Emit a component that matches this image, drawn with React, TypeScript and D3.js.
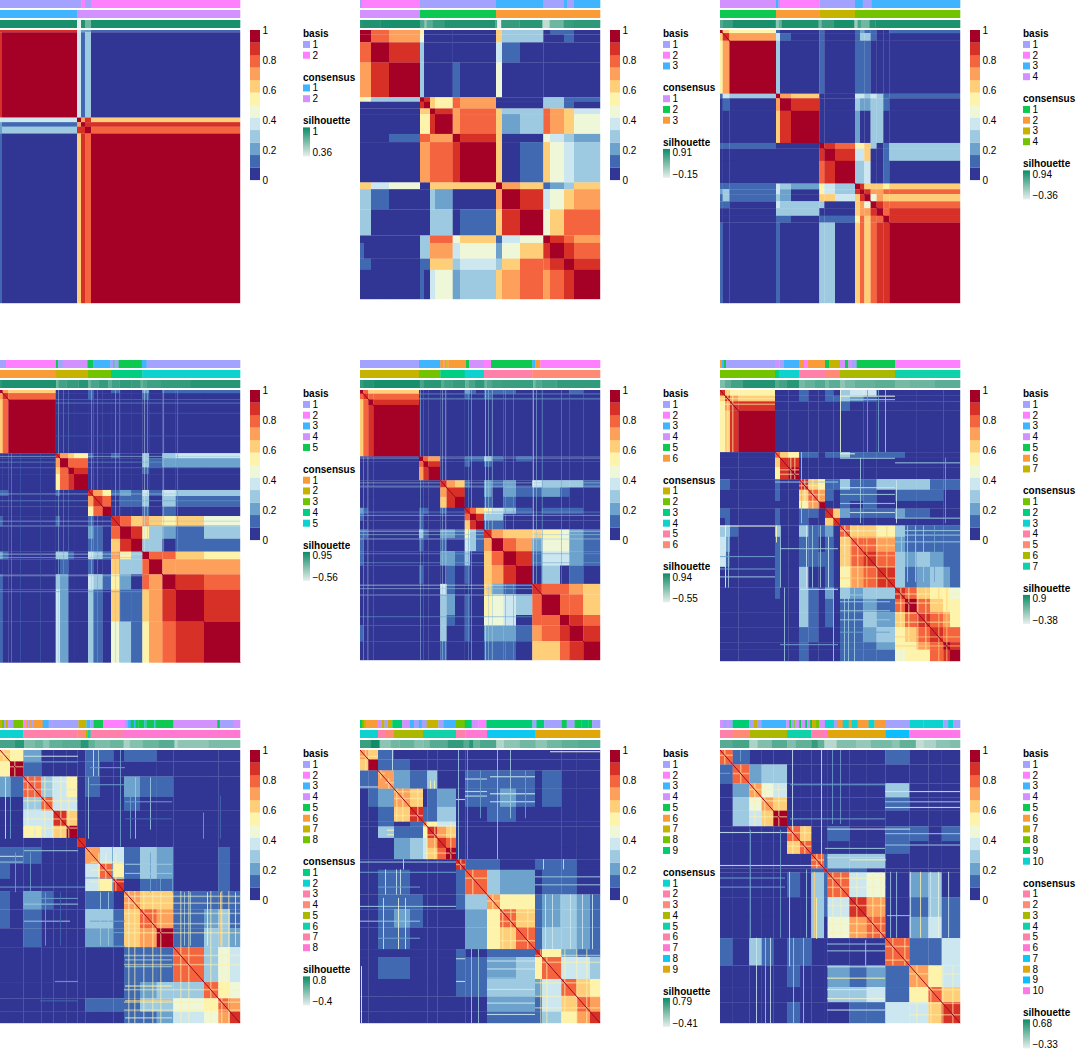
import * as d3 from 'd3';
import React from "react";

// consensus colour bins
const heatColors = ['#313695', '#4169B1', '#6DA2CC', '#9ECAE1', '#CDE7F0', '#EEF7D8', '#FEF3AB', '#FECE79', '#FDA05C', '#F4653F', '#D73027', '#A50026'];
const heatTicks = [0, 0.2, 0.4, 0.6, 0.8, 1];

// shared annotation colours
const basisColors = ['#A3A3FF', '#FF80FF', '#40B4FF', '#D291FF', '#0DC952', '#F99B36', '#C5B300', '#73C300', '#00CC73', '#0DD2D0'];
const consensusColorsByK: Record<number, string[]> = {
    2: ['#40B4FF', '#D291FF'],
    3: ['#D291FF', '#0DC952', '#F99B36'],
    4: ['#0DC952', '#F99B36', '#C5B300', '#73C300'],
    5: ['#F99B36', '#C5B300', '#73C300', '#00CE80', '#0DD2D0'],
    6: ['#C5B300', '#73C300', '#00CE80', '#0DD2D0', '#FF80A8', '#FF8A75'],
    7: ['#73C300', '#00CE80', '#0DD2D0', '#FF80A8', '#FF8A75', '#ABB800', '#0FD2AA'],
    8: ['#00CE80', '#0DD2D0', '#FF80A8', '#FF8A75', '#ABB800', '#0FD2AA', '#FF80A8', '#FF78D2'],
    9: ['#0DD2D0', '#FF80A8', '#FF8A75', '#ABB800', '#0FD2AA', '#FF80A8', '#FF78D2', '#0DC8F0', '#E0A70D'],
    10: ['#FF80A8', '#FF8A75', '#ABB800', '#0FD2AA', '#FF80A8', '#FF78D2', '#0DC8F0', '#E0A70D', '#0DBEFF', '#FF78E8'],
};

// k = 2
const k2Sizes = [2, 75, 4, 4, 6, 149];
const k2Rows = [
    [.9, .85, .4, .2, .2, .12],
    [1, .4, .15, .25, .02],
    [1, .72, .85, .6],
    [1, .9, .88],
    [1, .8],
    [1],
];
const k2Basis = [[1, 81], [2, 4], [1, 6], [2, 149]];
const k2Consensus = [[1, 77], [2, 163]];
const k2Sil = [[.97, 77], [.36, 4], [.95, 4], [.72, 6], [.97, 149]];
const k2SilRange = ['0.36', '1'];

// k = 3
const k3Sizes = [4, 7, 18, 31, 4, 6, 5, 17.7, 7.3, 36, 6, 18, 23.3, 6.7, 14, 10, 26];
const k3Rows = [
    [1, .95, .78, .7, .5, .05, .02, .02, .02, .02, .65, .33, .25, .02, .1, .15, .02],
    [1, .82, .7, .45, .03, .02, .02, .02, .02, .6, .3, .25, .02, .02, .1, .02],
    [1, .88, .25, .02, .02, .02, .02, .02, .4, .15, .02, .02, .02, .02, .02],
    [1, .3, .02, .02, .02, .12, .02, .42, .02, .02, .02, .02, .02, .02],
    [.92, .88, .6, .5, .8, .7, .02, .02, .02, .3, .25, .15, .1],
    [1, .65, .5, .8, .7, .02, .02, .02, .3, .25, .15, .05],
    [.95, .9, .7, .8, .65, .25, .25, .78, .7, .6, .4],
    [1, .7, .8, .6, .2, .3, .8, .7, .6, .47],
    [1, .88, .65, .02, .02, .47, .4, .25, .2],
    [1, .65, .02, .15, .6, .47, .4, .3],
    [.95, .7, .6, .1, .2, .3, .6],
    [1, .88, .4, .47, .6, .7],
    [1, .47, .62, .75, .8],
    [1, .88, .8, .7],
    [1, .88, .8],
    [1, .88],
    [1],
];
const k3Basis = [[1, 2], [2, 58], [1, 76], [3, 47], [1, 21], [3, 3], [1, 7], [3, 26]];
const k3Consensus = [[1, 60], [2, 76], [3, 104]];
const k3Sil = [[.78, 2], [.82, 18], [.86, 40], [.6, 4], [.3, 2], [.55, 6], [.72, 12], [.82, 50], [.6, 2], [-.15, 4], [.72, 18], [.78, 23], [.05, 7], [.45, 14], [.72, 10], [.76, 26]];
const k3SilRange = ['\u22120.15', '0.91'];

// k = 4
const k4Sizes = [2.7, 6.7, 46.6, 4, 11, 28.3, 5, 10.7, 20, 5, 4.3, 6.3, 6, 6.7, 6, 70.7];
const k4Rows = [
    [.95, .6, .55, .1, .02, .02, .1, .05, .02, .1, .2, .15, .1, .02, .05, .1],
    [.9, .7, .35, .1, .02, .15, .05, .02, .1, .25, .25, .1, .05, .05, .02],
    [1, .3, .05, .02, .1, .02, .02, .1, .1, .1, .02, .02, .02, .02],
    [.95, .7, .65, .05, .03, .03, .4, .35, .3, .4, .3, .15, .1],
    [.92, .85, .02, .02, .02, .3, .2, .2, .3, .25, .1, .02],
    [1, .02, .02, .02, .2, .02, .02, .25, .25, .02, .02],
    [1, .85, .75, .5, .55, .6, .3, .05, .15, .25],
    [1, .85, .35, .4, .6, .05, .05, .15, .25],
    [1, .3, .3, .4, .05, .02, .15, .02],
    [.95, .85, .6, .6, .6, .55, .6],
    [1, .88, .7, .7, .75, .75],
    [1, .45, .7, .65, .6],
    [1, .88, .8, .8],
    [1, .8, .85],
    [1, .88],
    [1],
];
const k4Basis = [[4, 56], [3, 2], [1, 2], [2, 39.3], [1, 35.7], [3, 7.7], [1, 8.6], [3, 88.7]];
const k4Consensus = [[1, 56], [2, 43.3], [3, 35.7], [4, 105]];
const k4Sil = [[.55, 3], [.7, 10], [.88, 43], [.2, 3], [.45, 3], [.85, 37], [.35, 3], [.7, 12], [.88, 21], [.1, 3], [.6, 4], [.35, 8], [.82, 6], [.85, 85]];
const k4SilRange = ['\u22120.36', '0.94'];

// k = 5
const k5Sizes = [2.7, 5.6, 47.4, 4.3, 8.3, 5.7, 14, 5.3, 9.3, 8.4, 9, 11, 11.3, 6.7, 13.3, 13.3, 28.3, 36];
const k5Rows = [
    [.95, .7, .65, .05, .05, .02, .02, .15, .05, .02, .1, .05, .02, .2, .05, .1, .1, .1],
    [.9, .75, .03, .02, .02, .02, .1, .02, .02, .05, .02, .02, .1, .02, .05, .02, .02],
    [1, .02, .02, .02, .02, .02, .02, .02, .02, .02, .02, .02, .02, .02, .02, .02],
    [.9, .7, .65, .55, .1, .05, .02, .1, .05, .02, .3, .05, .3, .35, .35],
    [.92, .8, .75, .05, .05, .02, .05, .02, .02, .25, .15, .2, .2, .2],
    [1, .85, .02, .02, .02, .02, .02, .02, .1, .02, .02, .02, .02],
    [1, .02, .02, .02, .02, .02, .02, .02, .02, .02, .02, .02],
    [.85, .7, .55, .1, .2, .1, .35, .15, .4, .3, .3],
    [.9, .8, .03, .15, .1, .25, .05, .3, .15, .1],
    [1, .02, .02, .02, .1, .02, .15, .02, .02],
    [.85, .75, .65, .7, .65, .55, .6, .45],
    [.92, .85, .55, .3, .2, .15, .25],
    [1, .3, .32, .02, .1, .12],
    [.95, .75, .75, .65, .55],
    [1, .7, .7, .7],
    [1, .88, .8],
    [1, .88],
    [1],
];
const k5Basis = [[1, 6], [2, 49.7], [5, 2], [1, 5], [4, 24.3], [5, 6], [3, 17], [1, 3], [5, 1], [1, 4], [5, 23.3], [3, 4.7], [1, 93]];
const k5Consensus = [[1, 55.7], [2, 32.3], [3, 23], [4, 31.3], [5, 97.7]];
const k5Sil = [[.75, 2], [.85, 54], [.3, 2], [.6, 8], [.7, 12], [.78, 10], [.3, 2], [.55, 8], [.7, 10], [.4, 3], [.62, 8], [.72, 12], [.68, 9], [.35, 2], [.5, 4], [.62, 14], [.7, 30], [.78, 49]];
const k5SilRange = ['\u22120.56', '0.95'];
const k5Stripes = [[58, .25], [63, .2], [68, .15], [91, .3], [97, .2], [115, .3], [119, .2], [144, .35], [147, .3], [163, .25], [177, .2], [11, .2], [20, .15], [40, .15]];

// k = 6
const k6Sizes = [3.3, 5, 5, 45.7, 4.3, 5, 12, 6.3, 8.4, 9.7, 5.3, 6, 8, 7.7, 11.6, 12.7, 16.3, 9.4, 18.3, 9.3, 14, 16.7];
const k6Rows = [
    [.95, .75, .65, .6, .05, .02, .02, .05, .02, .02, .2, .1, .05, .15, .1, .1, .05, .05, .05, .05, .1, .02],
    [.9, .8, .75, .03, .02, .02, .02, .02, .02, .1, .05, .02, .1, .05, .05, .02, .02, .02, .02, .02, .02],
    [.95, .88, .02, .02, .02, .02, .02, .02, .05, .02, .02, .05, .02, .02, .02, .02, .02, .02, .02, .02],
    [1, .02, .02, .02, .02, .02, .02, .02, .02, .05, .02, .02, .02, .02, .02, .02, .02, .02, .02],
    [.95, .75, .7, .05, .02, .02, .15, .1, .1, .25, .1, .02, .1, .05, .02, .02, .02, .02],
    [.95, .85, .05, .02, .02, .1, .05, .05, .15, .05, .05, .05, .02, .02, .02, .02, .02],
    [1, .02, .02, .02, .02, .02, .02, .02, .02, .02, .02, .02, .02, .02, .02, .02],
    [.9, .7, .6, .1, .05, .02, .2, .1, .2, .05, .4, .25, .25, .25, .1],
    [.9, .85, .05, .02, .02, .2, .05, .2, .1, .1, .2, .15, .05, .05],
    [1, .02, .02, .02, .1, .02, .1, .02, .02, .02, .02, .02, .02],
    [.9, .75, .65, .5, .4, .25, .1, .05, .1, .1, .1, .05],
    [.95, .85, .25, .3, .02, .02, .02, .02, .02, .02, .02],
    [1, .1, .15, .02, .02, .02, .02, .02, .02, .02],
    [.9, .72, .65, .6, .6, .55, .45, .2, .1],
    [.95, .8, .72, .2, .45, .45, .2, .15],
    [.95, .85, .1, .4, .35, .2, .12],
    [1, .02, .3, .02, .15, .02],
    [.9, .8, .75, .7, .65],
    [1, .75, .8, .65],
    [1, .85, .8],
    [1, .85],
    [1],
];
const k6Basis = [[1, 59], [3, 21.3], [6, 3], [4, 1], [6, 2], [7, 1], [6, 1], [6, 17.7], [5, 3], [4, 15], [2, 7], [5, 41.3], [3, 3], [6, 5], [2, 59.7]];
const k6Consensus = [[1, 59], [2, 21.3], [3, 24.4], [4, 19.3], [5, 48.3], [6, 67.7]];
const k6Sil = [[.7, 3], [.8, 10], [.88, 46], [.55, 4], [.75, 17], [.45, 3], [.6, 8], [.68, 13], [.35, 3], [.55, 6], [.72, 10], [.3, 2], [.5, 5], [.62, 10], [.66, 31], [.25, 2], [.5, 6], [.6, 15], [.7, 43]];
const k6SilRange = ['\u22120.55', '0.94'];
const k6Stripes = [[60, .25], [82, .25], [85, .3], [108, .2], [111, .3], [125, .45], [128, .25], [132, .3], [145, .2], [153, .2], [173, .45], [176, .3], [182, .2], [201, .2], [3, .2], [7, .2]];

// k = 7
const k7Sizes = [5, 5, 8.3, 36.7, 5, 8.3, 10.7, 9.3, 10, 6.7, 8.3, 6.7, 10, 13.3, 13.3, 18.4, 10, 11.7, 13.3, 13.3, 6.7, 10];
const k7Rows = [
    [.85, .6, .55, .5, .05, .02, .02, .1, .05, .02, .1, .02, .3, .35, .35, .05, .05, .02, .02, .02, .02, .02],
    [.85, .7, .65, .05, .02, .02, .1, .05, .02, .1, .1, .25, .2, .1, .02, .02, .02, .02, .02, .02, .02],
    [.9, .85, .03, .02, .02, .02, .02, .02, .05, .02, .1, .02, .02, .02, .02, .02, .02, .02, .02, .02],
    [1, .02, .02, .02, .02, .02, .02, .02, .02, .05, .02, .02, .02, .02, .02, .02, .02, .02, .02],
    [.8, .6, .55, .1, .1, .05, .1, .1, .3, .15, .1, .1, .1, .05, .05, .05, .05, .05],
    [.9, .85, .03, .02, .02, .05, .05, .05, .02, .02, .05, .02, .02, .02, .02, .02, .02],
    [1, .02, .02, .02, .02, .02, .02, .02, .02, .02, .02, .02, .02, .02, .02, .02],
    [.85, .6, .55, .15, .1, .25, .15, .15, .25, .3, .3, .3, .15, .15, .1],
    [.75, .7, .1, .05, .15, .1, .15, .05, .15, .15, .1, .1, .05, .05],
    [.95, .05, .05, .1, .05, .1, .05, .02, .05, .02, .02, .02, .02],
    [.85, .65, .2, .15, .1, .1, .2, .1, .1, .05, .05, .05],
    [.9, .05, .05, .05, .02, .05, .02, .02, .02, .02, .02],
    [.8, .65, .6, .5, .25, .15, .15, .1, .1, .1],
    [.8, .75, .72, .2, .15, .15, .12, .1, .1],
    [.9, .8, .25, .2, .25, .2, .12, .1],
    [.85, .25, .15, .2, .25, .2, .15],
    [.85, .75, .65, .5, .5, .45],
    [.92, .75, .65, .55, .5],
    [.9, .75, .7, .55],
    [.9, .8, .75],
    [.95, .85],
    [1],
];
const k7Basis = [[6, 2], [3, 2], [5, 2], [1, 49], [4, 4.3], [1, 4.7], [3, 15], [6, 5], [2, 3.3], [6, 17.7], [5, 4], [7, 11], [4, 5], [5, 3.3], [4, 3.3], [1, 5], [5, 38.4], [2, 65]];
const k7Consensus = [[1, 55], [2, 4], [3, 20], [4, 26], [5, 15], [6, 55], [7, 65]];
const k7Sil = [[.25, 5], [.45, 6], [.6, 12], [.78, 32], [.5, 4], [.6, 8], [.75, 12], [.3, 6], [.4, 10], [.5, 10], [.3, 4], [.45, 11], [.15, 5], [.3, 10], [.4, 20], [.45, 20], [.3, 15], [.35, 25], [.45, 25]];
const k7SilRange = ['\u22120.38', '0.9'];
const k7Stripes = [[5, .45, 120, 175], [8, .3, 120, 175], [56, .5, 120, 135], [60, .3, 120, 175], [64, .25, 175, 240], [81, .3, 55, 118], [86, .35, 120, 175], [92, .25, 120, 175], [100, .3, 120, 175], [108, .35, 130, 175], [113, .25, 175, 240], [120, .45, 0, 55], [124, .3, 175, 240], [128, .25, 175, 240], [134, .3, 175, 240], [140, .25, 60, 118], [147, .2, 0, 55], [158, .2, 0, 55], [165, .25, 0, 55], [176, .35, 80, 118], [181, .3, 120, 170], [187, .25, 120, 170], [195, .3, 120, 170], [203, .3, 120, 170], [214, .2, 120, 170], [225, .2, 60, 118]];
const k7Speckle = [[7, .55], [12, .5], [70, .5], [74, .55], [84, .45], [92, .5], [98, .55], [124, .45], [130, .5], [137, .5], [146, .6], [156, .55], [166, .6], [180, .5], [188, .55], [197, .55], [205, .5], [218, .6], [226, .6]];

// k = 8
const k8Sizes = [10, 13.3, 18, 12, 13.3, 10.7, 8, 14.7, 13.3, 10.7, 16, 16.7, 16.6, 30.7, 14.3, 11.7, 10];
const k8Rows = [
    [.65, .5, .2, .05, .05, .05, .02, .15, .1, .05, .1, .1, .05, .05, .03, .03, .03],
    [.95, .15, .03, .03, .03, .02, .1, .05, .02, .05, .05, .03, .03, .03, .03, .03],
    [.82, .3, .35, .55, .03, .1, .05, .05, .2, .1, .1, .05, .03, .03, .03],
    [.75, .4, .35, .03, .05, .05, .05, .1, .05, .05, .03, .03, .03, .03],
    [.85, .65, .03, .03, .03, .03, .03, .03, .03, .03, .03, .05, .03],
    [.95, .03, .03, .02, .02, .02, .02, .02, .02, .02, .02, .02],
    [.85, .03, .03, .03, .03, .03, .03, .03, .03, .03, .03],
    [.7, .4, .4, .15, .25, .2, .05, .05, .1, .05],
    [.75, .55, .15, .25, .2, .03, .05, .12, .05],
    [.85, .03, .15, .12, .03, .05, .12, .03],
    [.72, .6, .6, .1, .1, .12, .12],
    [.82, .7, .1, .2, .25, .15],
    [.98, .1, .25, .3, .2],
    [.82, .3, .45, .35],
    [.82, .5, .45],
    [.8, .7],
    [.9],
];
const k8Basis = [[7, 2], [8, 2], [1, 2], [7, 2], [4, 2], [1, 3.3], [8, 10], [2, 3], [6, 2], [1, 2], [6, 2], [1, 1], [6, 9.7], [3, 6], [1, 4], [1, 26], [7, 8], [3, 4], [1, 3.3], [5, 9.4], [2, 22], [1, 3], [3, 3], [5, 3], [3, 2], [5, 2.7], [5, 6], [3, 2], [5, 8], [3, 1.5], [5, 17.8], [4, 44], [5, 2.7], [1, 14], [4, 6.3]];
const k8Consensus = [[2, 23.3], [3, 54], [4, 8], [5, 2], [6, 3.3], [7, 33.4], [8, 116]];
const k8Sil = [[.5, 14], [.65, 9.3], [.2, 10], [.3, 8], [.12, 6], [.35, 12], [.4, 18], [.65, 8], [.35, 6], [.2, 14], [.3, 13.7], [-.05, 6], [.15, 12], [.3, 16], [.4, 15], [-.1, 3], [.1, 30], [.2, 30]];
const k8SilRange = ['\u22120.4', '0.8'];
const k8Stripes = [[93, .35, 0, 23], [98, .25, 0, 23], [135, .3, 24, 78], [88, .3, 24, 78], [5, .4, 24, 78], [10, .2, 24, 78], [203, .2, 55, 78], [220, .15, 40, 78], [130, .2, 24, 78], [150, .2, 90, 125], [160, .2, 90, 125], [172, .2, 85, 125], [207, .55, 125, 172], [220, .6, 125, 172], [235, .4, 125, 172], [184, .3, 125, 172], [190, .25, 125, 172], [150, .3, 24, 70], [112, .2, 85, 125], [120, .2, 0, 85], [15, .2, 90, 125], [30, .2, 90, 125], [45, .2, 125, 172], [60, .15, 125, 172], [100, .25, 125, 172], [108, .3, 125, 172]];
const k8Speckle = [[3, .5], [14, .55], [27, .45], [34, .4], [44, .5], [52, .45], [60, .5], [68, .55], [90, .6], [98, .5], [105, .55], [115, .5], [128, .45], [134, .55], [143, .5], [152, .5], [160, .55], [180, .5], [188, .55], [210, .55], [221, .5], [228, .55]];

// k = 9
const k9Sizes = [8.3, 9.7, 16, 16, 13, 4.3, 10, 8.7, 10, 9.3, 21.7, 13, 16, 19, 7, 19.3, 15.4, 13.3, 10];
const k9Rows = [
    [.7, .6, .1, .03, .03, .03, .03, .03, .03, .03, .03, .05, .03, .03, .03, .03, .03, .03, .03],
    [.95, .15, .1, .03, .03, .03, .03, .03, .03, .03, .03, .03, .03, .03, .03, .03, .03, .03],
    [.7, .2, .15, .1, .25, .05, .05, .03, .12, .1, .15, .1, .05, .1, .05, .03, .03],
    [.72, .6, .05, .1, .2, .2, .03, .1, .1, .2, .1, .05, .1, .05, .03, .03],
    [.85, .1, .1, .3, .3, .03, .03, .1, .1, .05, .03, .03, .03, .03, .03],
    [.75, .5, .4, .4, .03, .03, .03, .03, .03, .03, .03, .03, .03, .03],
    [.9, .7, .65, .03, .03, .03, .03, .03, .03, .03, .03, .03, .03],
    [.85, .75, .03, .03, .03, .03, .03, .03, .03, .03, .03, .03],
    [.98, .03, .03, .03, .03, .03, .03, .03, .03, .03, .03],
    [.85, .15, .1, .05, .03, .1, .1, .1, .03, .03],
    [.75, .25, .2, .2, .03, .1, .1, .03, .03],
    [.7, .55, .55, .12, .2, .25, .2, .12],
    [.82, .65, .1, .2, .25, .2, .15],
    [.8, .1, .3, .3, .2, .15],
    [.85, .5, .2, .15, .1],
    [.75, .35, .35, .3],
    [.75, .6, .5],
    [.82, .72],
    [.88],
];
const k9Basis = [[9, 2], [8, 2], [7, 2], [6, 12], [4, 4], [7, 3], [1, 3], [7, 5], [9, 10], [4, 8], [3, 4], [1, 5], [3, 3], [1, 5], [7, 12], [1, 5], [3, 13], [8, 9], [5, 2], [9, 5], [4, 7], [2, 8], [9, 47], [1, 4], [9, 8], [1, 18], [5, 5], [1, 8], [5, 7], [9, 7], [5, 4], [1, 8]];
const k9Consensus = [[1, 18], [2, 7], [3, 9], [4, 29], [5, 33], [6, 9.3], [7, 21.7], [8, 48], [9, 65]];
const k9Sil = [[.55, 10], [.78, 8], [.1, 10], [.25, 8], [.3, 14], [.15, 8], [.2, 6], [.4, 16], [.6, 15], [.4, 5], [.65, 4], [.3, 6], [.45, 15], [-.1, 7], [.1, 14], [.25, 15], [.1, 10], [.25, 14], [.35, 14], [.4, 21]];
const k9SilRange = ['\u22120.41', '0.79'];
const k9Stripes = [[32, .4, 0, 18], [70, .5, 27, 34], [74, .5, 27, 34], [137, .3, 0, 96], [43, .4, 96, 105], [183, .35, 96, 105], [203, .4, 96, 105], [107, .2, 0, 96], [98, .3, 0, 96], [185, .35, 127, 175], [192, .4, 127, 175], [200, .3, 127, 175], [210, .35, 127, 175], [222, .4, 127, 175], [232, .4, 127, 175], [25, .35, 105, 127], [36, .35, 105, 127], [40, .4, 105, 127], [23, .4, 130, 175], [38, .45, 130, 175], [45, .35, 130, 175], [1, .55, 190, 240], [150, .25, 0, 60], [165, .2, 18, 60], [120, .2, 18, 60], [111, .25, 175, 240], [118, .25, 175, 240]];
const k9Speckle = [[5, .5], [20, .5], [28, .5], [36, .55], [42, .5], [57, .5], [66, .5], [74, .55], [90, .5], [100, .5], [112, .55], [132, .5], [142, .55], [150, .5], [167, .5], [180, .55], [186, .5], [204, .55], [216, .5], [226, .55]];

// k = 10
const k10Sizes = [12.7, 16.6, 12.3, 11.7, 13.7, 13, 11.3, 12.7, 3.6, 21.7, 17.3, 18.7, 24, 19, 13.3, 18.3];
const k10Rows = [
    [.8, .1, .03, .03, .03, .03, .03, .03, .03, .03, .03, .03, .1, .05, .03, .03],
    [.82, .2, .25, .3, .03, .03, .03, .03, .03, .03, .03, .05, .05, .03, .03],
    [.68, .45, .35, .05, .03, .05, .03, .05, .03, .03, .25, .05, .03, .03],
    [.72, .6, .05, .03, .03, .03, .03, .03, .03, .1, .03, .03, .03],
    [.95, .03, .03, .03, .03, .03, .03, .03, .03, .03, .03, .03],
    [.75, .65, .05, .03, .1, .05, .05, .15, .1, .05, .1],
    [.8, .03, .03, .05, .03, .03, .1, .05, .03, .05],
    [.75, .1, .25, .25, .25, .05, .05, .03, .05],
    [.85, .1, .1, .05, .05, .05, .05, .05],
    [.78, .35, .45, .08, .2, .25, .08],
    [.88, .72, .03, .15, .25, .1],
    [.75, .05, .2, .35, .15],
    [.78, .1, .15, .35],
    [.68, .55, .4],
    [.8, .6],
    [.85],
];
const k10Basis = [[4, 3], [1, 4], [4, 2], [1, 3.7], [9, 16.6], [1, 5], [7, 3], [1, 4.3], [3, 25.3], [4, 3], [5, 2], [1, 3], [8, 1], [4, 4], [5, 2], [4, 4], [9, 2], [4, 3], [5, 2], [7, 4], [8, 3], [4, 6], [10, 9], [1, 3], [6, 6], [10, 6], [6, 3], [10, 6], [6, 11], [10, 6], [6, 11.3], [1, 24], [10, 14], [10, 20], [1, 5], [10, 5], [1, 7]];
const k10Consensus = [[1, 12.7], [2, 16.6], [3, 37.7], [4, 24.3], [5, 12.7], [6, 3.6], [8, 57.7], [9, 24], [10, 50.7]];
const k10Sil = [[.35, 12.7], [.42, 16.6], [-.05, 8], [.15, 14], [.35, 15.7], [.15, 8], [.3, 16.3], [.5, 6], [.3, 6.7], [-.1, 12], [.15, 20], [.05, 14], [.2, 21], [.1, 8], [.3, 16], [-.15, 8], [-.05, 12], [.1, 14], [.15, 10]];
const k10SilRange = ['\u22120.33', '0.68'];
const k10Stripes = [[96, .5, 130, 166], [101, .4, 0, 100], [72, .35, 0, 70], [94, .6, 107, 165], [69, .4, 107, 190], [190, .4, 107, 165], [200, .5, 107, 165], [210, .35, 107, 165], [218, .45, 107, 165], [228, .35, 107, 165], [36, .35, 165, 240], [45, .3, 165, 240], [50, .35, 165, 240], [73, .3, 165, 240], [83, .25, 165, 240], [20, .2, 0, 10], [30, .2, 70, 165], [60, .2, 70, 165], [112, .2, 0, 65], [120, .2, 0, 65], [145, .25, 167, 190], [170, .3, 107, 165], [176, .3, 107, 165], [86, .25, 105, 165]];
const k10Speckle = [[4, .5], [20, .55], [34, .5], [44, .5], [58, .55], [72, .5], [84, .55], [96, .5], [112, .5], [120, .5], [136, .55], [152, .5], [160, .55], [172, .5], [184, .55], [196, .5], [210, .5], [222, .55], [232, .55]];

const panels = [
    { k: 2, sizes: k2Sizes, rows: k2Rows, basis: k2Basis, consensus: k2Consensus, sil: k2Sil, silRange: k2SilRange, column: 0, row: 0, height: 273, stripes: [], speckle: [] },
    { k: 3, sizes: k3Sizes, rows: k3Rows, basis: k3Basis, consensus: k3Consensus, sil: k3Sil, silRange: k3SilRange, column: 1, row: 0, height: 269, stripes: [], speckle: [] },
    { k: 4, sizes: k4Sizes, rows: k4Rows, basis: k4Basis, consensus: k4Consensus, sil: k4Sil, silRange: k4SilRange, column: 2, row: 0, height: 273, stripes: [], speckle: [] },
    { k: 5, sizes: k5Sizes, rows: k5Rows, basis: k5Basis, consensus: k5Consensus, sil: k5Sil, silRange: k5SilRange, column: 0, row: 1, height: 272.5, stripes: k5Stripes, speckle: [] },
    { k: 6, sizes: k6Sizes, rows: k6Rows, basis: k6Basis, consensus: k6Consensus, sil: k6Sil, silRange: k6SilRange, column: 1, row: 1, height: 270, stripes: k6Stripes, speckle: [] },
    { k: 7, sizes: k7Sizes, rows: k7Rows, basis: k7Basis, consensus: k7Consensus, sil: k7Sil, silRange: k7SilRange, column: 2, row: 1, height: 271, stripes: k7Stripes, speckle: k7Speckle },
    { k: 8, sizes: k8Sizes, rows: k8Rows, basis: k8Basis, consensus: k8Consensus, sil: k8Sil, silRange: k8SilRange, column: 0, row: 2, height: 273, stripes: k8Stripes, speckle: k8Speckle },
    { k: 9, sizes: k9Sizes, rows: k9Rows, basis: k9Basis, consensus: k9Consensus, sil: k9Sil, silRange: k9SilRange, column: 1, row: 2, height: 273, stripes: k9Stripes, speckle: k9Speckle },
    { k: 10, sizes: k10Sizes, rows: k10Rows, basis: k10Basis, consensus: k10Consensus, sil: k10Sil, silRange: k10SilRange, column: 2, row: 2, height: 273, stripes: k10Stripes, speckle: k10Speckle },
];

const color = d3.scaleQuantize<string>().domain([0, 1]).range(heatColors);
const FONT = '"Liberation Sans", Arial, sans-serif';
const heatW = 240;
const rowH = 10.75;

const Track = ({ items, y, fill }: { items: number[][], y: number, fill: (v: number) => string }) => {
    const x = d3.scaleLinear().domain([0, d3.sum(items, d => d[1])]).range([0, heatW]);
    let at = 0;
    return (
        <g>
            {items.map((d, i) => {
                const x0 = x(at);
                at += d[1];
                return <rect key={i} x={x0} y={y} width={x(at) - x0 + 0.3} height={8} fill={fill(d[0])} />;
            })}
        </g>
    );
};

const Legend = ({ title, labels, colors, y }: { title: string, labels: string[], colors: string[], y: number }) => (
    <g>
        <text x={303} y={y + 3.5} fontSize={10} fontWeight="bold">{title}</text>
        {labels.map((l, i) => (
            <g key={l}>
                <rect x={303} y={y + rowH * (i + 1) - 3.5} width={7} height={7} fill={colors[i]} />
                <text x={312.5} y={y + rowH * (i + 1) + 3.5} fontSize={10}>{l}</text>
            </g>
        ))}
    </g>
);

const Panel = ({ p, index }: { p: typeof panels[number], index: number }) => {
    const left = p.column * 360;
    const top = [0, 360, 720][p.row];
    const heatTop = 30;
    const total = d3.sum(p.sizes);
    const sx = d3.scaleLinear().domain([0, total]).range([0, heatW]);
    const sy = d3.scaleLinear().domain([0, total]).range([heatTop, heatTop + p.height]);
    const edges = [0, ...d3.cumsum(p.sizes)];
    const cons = p.consensus;
    const consEdges = [0, ...d3.cumsum(cons, d => d[1])];

    const valueAt = (i: number, j: number) => {
        const a = Math.min(i, j), b = Math.max(i, j);
        return p.rows[a]?.[b - a] ?? 0.02;
    };

    const silMin = parseFloat(p.silRange[0].replace('\u2212', '-'));
    const silMax = parseFloat(p.silRange[1]);
    const silColor = d3.scaleLinear<string>().domain([silMin, silMax]).range(['#E9EFEC', '#0E8B66']);

    const consColors = consensusColorsByK[p.k];
    const legendItems = d3.range(1, p.k + 1);
    const barY = d3.scaleLinear().domain([0, 1]).range([heatTop + 150, heatTop]);
    const binH = 150 / heatColors.length;
    const consHead = heatTop + 3.7 + rowH * p.k + 22;
    const silHead = consHead + rowH * p.k + 22;
    const gradId = `sil-grad-${index}`;

    const clusterOf = (pos: number) => {
        const c = d3.bisectRight(consEdges, pos) - 1;
        return [consEdges[Math.max(c, 0)], consEdges[Math.min(c + 1, consEdges.length - 1)]];
    };
    const diagonal = d3.line<number>().x(d => sx(d)).y(d => sy(d));
    const w = sx(1) - sx(0);
    const h = sy(1) - sy(0);

    return (
        <g transform={`translate(${left},${top})`}>
            <Track items={p.basis} y={0} fill={v => basisColors[v - 1]} />
            <Track items={p.consensus} y={10} fill={v => consColors[v - 1]} />
            <Track items={p.sil} y={20} fill={v => silColor(v)} />

            {p.sizes.map((_, i) => p.sizes.map((__, j) => (
                <rect key={`${i}-${j}`} x={sx(edges[j])} y={sy(edges[i])}
                    width={sx(edges[j + 1]) - sx(edges[j]) + 0.2}
                    height={sy(edges[i + 1]) - sy(edges[i]) + 0.2}
                    fill={color(valueAt(i, j))} />
            )))}

            {p.stripes.map((s, i) => {
                if (s.length > 2) {
                    // stripe seen only over part of the matrix, drawn on both sides of the diagonal
                    return (
                        <g key={i} fill={color(s[1])} opacity={0.85}>
                            <rect x={sx(s[0])} y={sy(s[2])} width={w} height={sy(s[3]) - sy(s[2])} />
                            <rect x={sx(s[2])} y={sy(s[0])} width={sx(s[3]) - sx(s[2])} height={h} />
                        </g>
                    );
                }
                const [a, b] = clusterOf(s[0]);
                return (
                    <g key={i} fill={color(s[1])} opacity={0.5}>
                        <rect x={sx(s[0])} y={sy(0)} width={w} height={sy(a) - sy(0)} />
                        <rect x={sx(s[0])} y={sy(b)} width={w} height={sy(total) - sy(b)} />
                        <rect x={sx(0)} y={sy(s[0])} width={sx(a)} height={h} />
                        <rect x={sx(b)} y={sy(s[0])} width={sx(total) - sx(b)} height={h} />
                    </g>
                );
            })}
            {p.speckle.map((s, i) => {
                const [a, b] = clusterOf(s[0]);
                return (
                    <g key={i} fill={color(s[1])} opacity={0.5}>
                        <rect x={sx(s[0])} y={sy(a)} width={1.5} height={sy(b) - sy(a)} />
                        <rect x={sx(a)} y={sy(s[0])} width={sx(b) - sx(a)} height={1.5} />
                    </g>
                );
            })}
            {p.k > 3 && cons.map((_, i) => (
                <path key={i} d={diagonal([consEdges[i], consEdges[i + 1]]) ?? ''} fill="none" stroke="#A50026" strokeWidth={1} />
            ))}

            {heatColors.map((c, i) => (
                <rect key={c} x={250} y={heatTop + 150 - binH * (i + 1)} width={10} height={binH + 0.1} fill={c} />
            ))}
            {heatTicks.map(t => (
                <text key={t} x={262.5} y={barY(t) + 3.5} fontSize={10}>{t}</text>
            ))}

            <Legend title="basis" labels={legendItems.map(String)} colors={basisColors} y={heatTop + 3.7} />
            <Legend title="consensus" labels={legendItems.map(String)} colors={consColors} y={consHead} />

            <text x={303} y={silHead + 3.5} fontSize={10} fontWeight="bold">silhouette</text>
            <linearGradient id={gradId} x1="0" y1="0" x2="0" y2="1">
                <stop offset="0%" stopColor="#0E8B66" />
                <stop offset="100%" stopColor="#E9EFEC" />
            </linearGradient>
            <rect x={303} y={silHead + 6.7} width={7} height={29} fill={`url(#${gradId})`} />
            <text x={312.5} y={silHead + 14.2} fontSize={10}>{p.silRange[1]}</text>
            <text x={312.5} y={silHead + 35.5} fontSize={10}>{p.silRange[0]}</text>
        </g>
    );
};

const App: React.FC = () => (
    <svg width={1076} height={1052} fontFamily={FONT} fill="#000"
        style={{ position: 'absolute', left: 0, top: 0, display: 'block' }}>
        <rect width={1076} height={1052} fill="#fff" />
        {panels.map((p, i) => <Panel key={p.k} p={p} index={i} />)}
    </svg>
);

export default App;
